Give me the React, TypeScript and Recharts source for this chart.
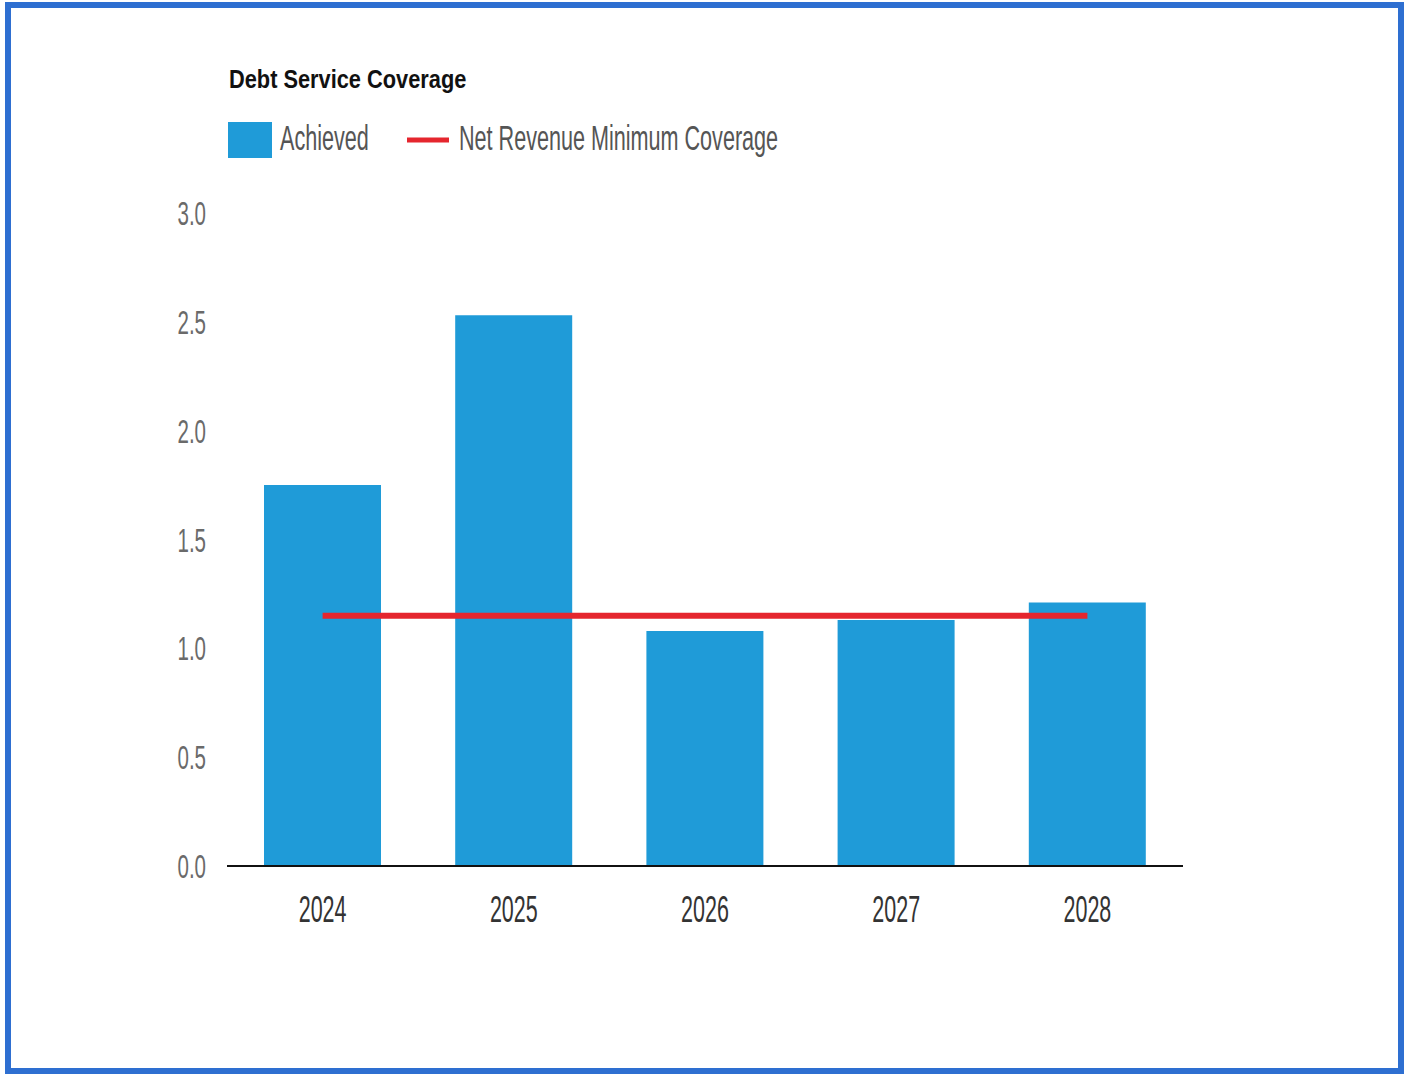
import { Bar, ComposedChart, Legend, Line, XAxis, YAxis } from 'recharts';

const years = ['2024', '2025', '2026', '2027', '2028'];
const achieved = [1.75, 2.53, 1.08, 1.13, 1.21];
const minimumCoverage = [1.15, 1.15, 1.15, 1.15, 1.15];
const yTicks = [0, 0.5, 1, 1.5, 2, 2.5, 3];

const data = years.map((year, i) => ({
  year,
  achieved: achieved[i],
  minimum: minimumCoverage[i],
}));

const BLUE = '#1f9bd8';
const RED = '#e5262e';
const FONT = '"Liberation Sans", Arial, sans-serif';

// the scanned original has tall, narrow lettering, so text is stretched vertically
function YTick({ x, y, payload }: any) {
  return (
    <text
      transform={`translate(${x},${y + 12}) scale(1,1.6)`}
      textAnchor="end"
      fontFamily={FONT}
      fontSize={20.5}
      fill="#6a6a6a"
    >
      {Number(payload.value).toFixed(1)}
    </text>
  );
}

function XTick({ x, y, payload }: any) {
  return (
    <text
      transform={`translate(${x},${y + 56}) scale(1,1.75)`}
      textAnchor="middle"
      fontFamily={FONT}
      fontSize={21.5}
      fill="#333"
    >
      {payload.value}
    </text>
  );
}

function LegendContent({ payload }: any) {
  const bar = (payload || []).find((p: any) => p.dataKey === 'achieved');
  const line = (payload || []).find((p: any) => p.dataKey === 'minimum');
  return (
    <svg width={1406} height={170} style={{ display: 'block' }}>
      <text
        transform="translate(229,88) scale(1,1.2)"
        fontFamily={FONT}
        fontWeight="bold"
        fontSize={21.8}
        fill="#111"
      >
        Debt Service Coverage
      </text>
      <rect x={228} y={122} width={44} height={36} fill={bar?.color ?? BLUE} />
      <text transform="translate(280,150) scale(1,1.6)" fontFamily={FONT} fontSize={21.6} fill="#555">
        {bar?.value}
      </text>
      <line x1={407} x2={449} y1={140} y2={140} stroke={line?.color ?? RED} strokeWidth={5} />
      <text transform="translate(459,150) scale(1,1.6)" fontFamily={FONT} fontSize={21.6} fill="#555">
        {line?.value}
      </text>
    </svg>
  );
}

export default function App() {
  return (
    <div style={{ position: 'absolute', left: 0, top: 0, width: 1406, height: 1078, background: '#fff' }}>
      <div
        style={{
          position: 'absolute',
          left: 5,
          top: 2,
          width: 1399,
          height: 1072,
          border: '6px solid #2e6fd1',
          boxSizing: 'border-box',
        }}
      />
      <div style={{ position: 'absolute', left: 0, top: 0 }}>
        <ComposedChart
          width={1406}
          height={1078}
          data={data}
          margin={{ top: 213, right: 223, bottom: 152, left: 0 }}
        >
          <XAxis
            dataKey="year"
            height={60}
            tickLine={false}
            tickSize={0}
            tickMargin={0}
            axisLine={{ stroke: '#111', strokeWidth: 2 }}
            tick={<XTick />}
          />
          <YAxis
            width={227}
            domain={[0, 3]}
            ticks={yTicks}
            axisLine={false}
            tickLine={false}
            tickSize={0}
            tickMargin={21}
            tick={<YTick />}
          />
          <Legend
            layout="horizontal"
            verticalAlign="middle"
            align="center"
            wrapperStyle={{ position: 'absolute', top: 0, left: 0, width: 1406, height: 170 }}
            content={<LegendContent />}
          />
          <Bar dataKey="achieved" name="Achieved" fill={BLUE} barSize={117} isAnimationActive={false} />
          <Line
            dataKey="minimum"
            name="Net Revenue Minimum Coverage"
            type="linear"
            stroke={RED}
            strokeWidth={6}
            dot={false}
            activeDot={false}
            isAnimationActive={false}
          />
        </ComposedChart>
      </div>
    </div>
  );
}
